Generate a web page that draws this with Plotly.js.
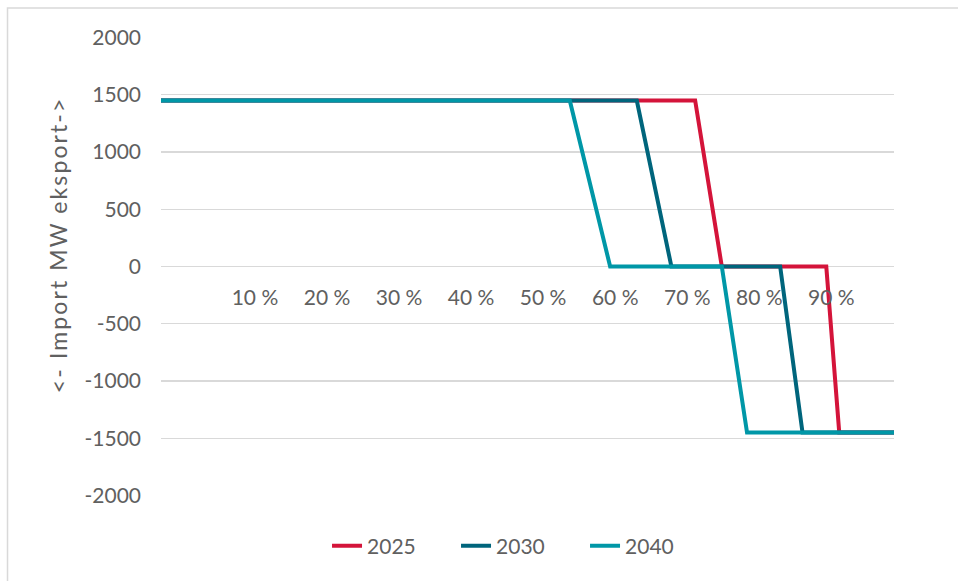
<!DOCTYPE html>
<html>
<head>
<meta charset="utf-8">
<script src="https://cdn.plot.ly/plotly-3.0.1.min.js"></script>
<style>
html,body{margin:0;padding:0;background:#fff;}
#chart{width:958px;height:581px;}
#chart .annotation-text{letter-spacing:2.1px;}
</style>
</head>
<body>
<div id="chart"></div>
<script>
// Share of time (%) – breakpoints
const seriesNames = ["2025", "2030", "2040"];
const seriesColors = ["#D4143A", "#00657C", "#0097A7"];
const xStart = -3.04, xEnd = 98.7;
const x2025 = [xStart, 71.1, 74.8, 89.3, 91.1, xEnd];
const x2030 = [xStart, 63.0, 67.8, 82.9, 86.0, xEnd];
const x2040 = [xStart, 53.7, 59.3, 74.8, 78.3, xEnd];
const yMW = [1450, 1450, 0, 0, -1450, -1450];
const xTickVals = [10, 20, 30, 40, 50, 60, 70, 80, 90];
const xTickText = ["10 %", "20 %", "30 %", "40 %", "50 %", "60 %", "70 %", "80 %", "90 %"];
const yTickVals = [2000, 1500, 1000, 500, 0, -500, -1000, -1500, -2000];
const yTickText = ["2000", "1500", "1000", "500", "0", "-500", "-1000", "-1500", "-2000"];
const yTitle = "&lt;- Import MW eksport-&gt;";

const xs = [x2025, x2030, x2040];
const traces = seriesNames.map((n, i) => ({
  type: "scatter", mode: "lines", name: n,
  x: xs[i], y: yMW,
  line: {color: seriesColors[i], width: 4}
}));

const font = "Lato, 'Open Sans', sans-serif";
const txtColor = "#606060";
const layout = {
  width: 958, height: 581,
  margin: {l: 161, r: 64, t: 37, b: 85},
  paper_bgcolor: "#fff", plot_bgcolor: "#fff",
  font: {family: font, size: 21, color: txtColor},
  showlegend: true,
  legend: {orientation: "h", x: 0.2265, xanchor: "left", y: -0.109, yanchor: "middle",
           entrywidth: 84, entrywidthmode: "pixels",
           font: {family: font, size: 21, color: txtColor}, traceorder: "normal"},
  xaxis: {range: [xStart, xEnd], anchor: "free", position: 0.5,
          showgrid: false, zeroline: false, showline: false, ticks: "",
          tickvals: xTickVals, ticktext: xTickText, ticklabelstandoff: 16},
  yaxis: {range: [-2005, 2005], showgrid: true, gridcolor: "#D9D9D9", gridwidth: 1.3,
          zeroline: false, showline: false, ticks: "",
          tickvals: yTickVals, ticktext: yTickText, ticklabelstandoff: 19},
  annotations: [{text: yTitle, xref: "paper", yref: "paper", x: -0.1405, y: 0.5468,
                 xanchor: "center", yanchor: "middle", textangle: -90, showarrow: false,
                 font: {family: font, size: 23, color: txtColor}}],
  shapes: [{type: "rect", xref: "paper", yref: "paper",
            x0: -0.2094, x1: 1.3, y0: -0.3, y1: 1.0632,
            line: {color: "#D9D9D9", width: 1.5}, fillcolor: "rgba(0,0,0,0)", layer: "below"}]
};
Plotly.newPlot("chart", traces, layout, {staticPlot: true});
</script>
</body>
</html>
